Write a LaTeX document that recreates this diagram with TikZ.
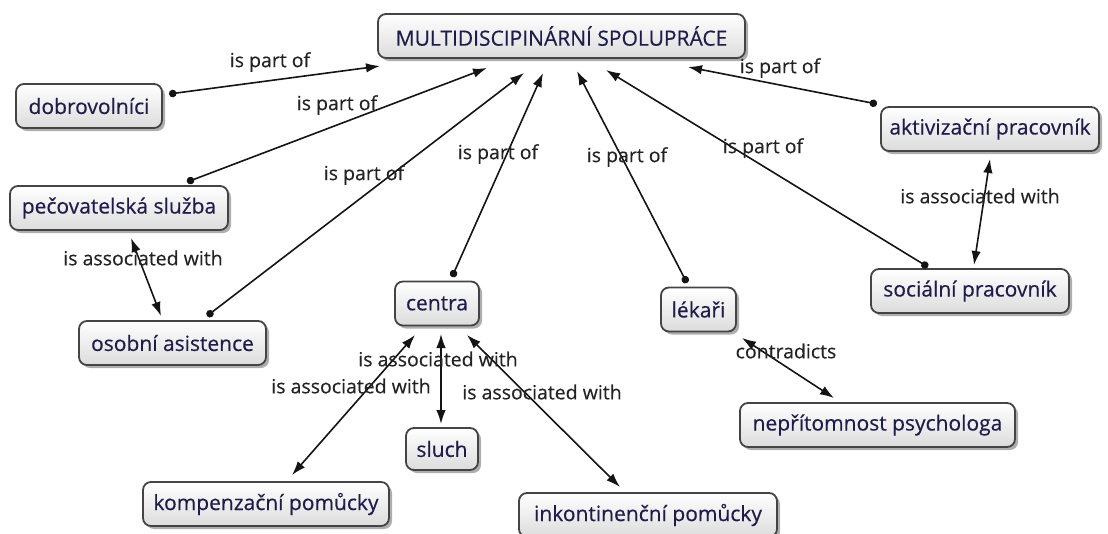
\documentclass[tikz,border=0pt]{standalone}
\usepackage{fontspec}
\setmainfont{Open Sans}
\newfontfamily\conceptfont{Open Sans}[FakeBold=0.35]
\newfontfamily\labelfont{Open Sans}[FakeBold=0.3]
\usetikzlibrary{arrows.meta,shadows}
\definecolor{boxtext}{RGB}{30,28,74}
\definecolor{boxline}{RGB}{68,68,68}
\definecolor{boxlow}{RGB}{220,220,220}
\definecolor{linkcol}{RGB}{20,20,20}
\definecolor{labelcol}{RGB}{35,35,35}
\tikzset{
  concept/.style={draw=boxline, line width=1.8pt, rounded corners=8pt,
    top color=white, bottom color=boxlow, text=boxtext,
    font=\conceptfont\fontsize{21}{24}\selectfont, inner xsep=6pt, inner ysep=0pt,
    minimum height=44pt,
    drop shadow={shadow xshift=3pt, shadow yshift=-3pt, opacity=0.45, fill=black!70}},
  linklabel/.style={text=labelcol, font=\labelfont\fontsize{19.5}{22}\selectfont, inner sep=0pt},
  partof/.style={draw=linkcol, line width=1.6pt,
    {Circle[length=7.5pt,width=7.5pt]}-{Latex[length=14pt,width=9.5pt]}},
  assoc/.style={draw=linkcol, line width=1.6pt,
    {Latex[length=14pt,width=9.5pt]}-{Latex[length=14pt,width=9.5pt]}}
}
\begin{document}
\begin{tikzpicture}[x=1pt,y=-1pt]
\useasboundingbox (0,0) rectangle (1108,533);

% concepts
\node[concept, minimum width=367pt] (multi)  at (561.5,36)  {MULTIDISCIPINÁRNÍ SPOLUPRÁCE};
\node[concept, minimum width=146pt] (dob)    at (89,106)    {dobrovolníci};
\node[concept, minimum width=218pt] (pec)    at (119,208)   {pečovatelská služba};
\node[concept, minimum width=187pt] (osob)   at (172.5,343) {osobní asistence};
\node[concept, minimum width=84pt]  (centra) at (437,303.5) {centra};
\node[concept, minimum width=72pt, minimum height=42pt] (sluch) at (442,449) {sluch};
\node[concept, minimum width=246pt] (komp)   at (266,504)   {kompenzační pomůcky};
\node[concept, minimum width=258pt] (inkont) at (648,515)   {inkontinenční pomůcky};
\node[concept, minimum width=75pt]  (lekari) at (698.5,309.5) {lékaři};
\node[concept, minimum width=275pt] (nepr)   at (877.5,425) {nepřítomnost psychologa};
\node[concept, minimum width=198pt] (soc)    at (970,291)   {sociální pracovník};
\node[concept, minimum width=218pt] (akt)    at (990,129)   {aktivizační pracovník};

% "is part of" links into the central concept
\draw[partof] ([shift={(80,-12)}]dob.center)       -- ([shift={(-181.5,30)}]multi.center);
\draw[partof] ([shift={(68,-26)}]pec.center)       -- ([shift={(-74.5,32)}]multi.center);
\draw[partof] ([shift={(34.5,-27)}]osob.center)    -- ([shift={(-37.5,37)}]multi.center);
\draw[partof] ([shift={(15,-26.5)}]centra.center)  -- ([shift={(-18.5,37)}]multi.center);
\draw[partof] ([shift={(-11.5,-26.5)}]lekari.center) -- ([shift={(15.5,35)}]multi.center);
\draw[partof] ([shift={(-42,-24)}]soc.center)      -- ([shift={(44.5,34)}]multi.center);
\draw[partof] ([shift={(-113,-25)}]akt.center)     -- ([shift={(126.5,31)}]multi.center);

% two-way links
\draw[assoc] ([shift={(12,30)}]pec.center)     -- ([shift={(-11.5,-27)}]osob.center);
\draw[assoc] ([shift={(0,30)}]akt.center)      -- ([shift={(4,-26)}]soc.center);
\draw[assoc] ([shift={(-22,31.5)}]centra.center) -- ([shift={(26,-29)}]komp.center);
\draw[assoc] ([shift={(4,30.5)}]centra.center) -- ([shift={(-1,-25)}]sluch.center);
\draw[assoc] ([shift={(30,31.5)}]centra.center) -- ([shift={(-28,-28)}]inkont.center);
\draw[assoc] ([shift={(43.5,28.5)}]lekari.center) -- ([shift={(-43.5,-27)}]nepr.center);

% link labels
\node[linklabel] (l1)  at (270,62)  {is part of};
\node[linklabel] (l2)  at (337,105) {is part of};
\node[linklabel] (l3)  at (364,175) {is part of};
\node[linklabel] (l4)  at (498,154) {is part of};
\node[linklabel] (l5)  at (627,157) {is part of};
\node[linklabel] (l6)  at (763,148) {is part of};
\node[linklabel] (l7)  at (780,68)  {is part of};
\node[linklabel] (l8)  at (143,258) {is associated with};
\node[linklabel] (l9)  at (980,196) {is associated with};
\node[linklabel] (l10) at (351,386) {is associated with};
\node[linklabel] (l11) at (438,359) {is associated with};
\node[linklabel] (l12) at (542,392) {is associated with};
\node[linklabel] (l13) at (786,351) {contradicts};
\end{tikzpicture}
\end{document}
